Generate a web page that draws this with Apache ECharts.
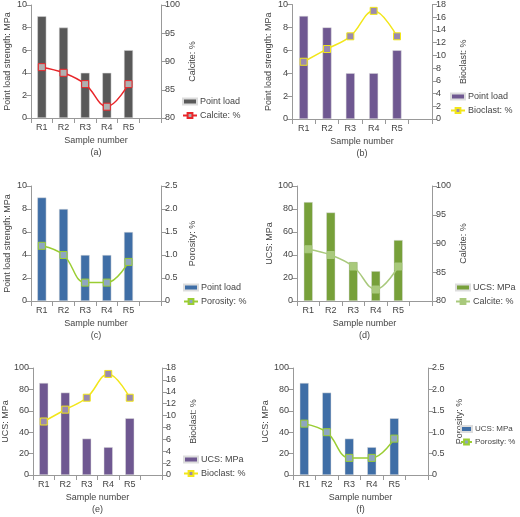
<!DOCTYPE html>
<html><head><meta charset="utf-8">
<script src="https://cdn.jsdelivr.net/npm/echarts@6/dist/echarts.min.js"></script>
<style>html,body{margin:0;padding:0;background:#fff}#c{width:520px;height:517px}</style>
</head><body><div id="c"></div>
<script>
const categories = ['R1','R2','R3','R4','R5',''];
const pointLoad = [9,8,4,4,6];
const ucs = [86,77,34,26,53];
const calcite = [89,88,86,82,86];
const bioclast = [9,11,13,17,13];
const porosity = [1.2,1.0,0.4,0.4,0.85];

const panels = [
 {tag:'(a)', g:{left:31,right:359,top:5,height:113}, bar:pointLoad, barName:'Point load', lName:'Point load strength: MPa', lMax:10, lInt:2,
  line:calcite, lineName:'Calcite: %', rName:'Calcite: %', rMin:80, rMax:100, rInt:5, barC:'#595959', lineC:'#e8262a', mkC:'#b0b0b0', leg:[182,97]},
 {tag:'(b)', g:{left:292,right:88,top:4,height:115}, bar:pointLoad, barName:'Point load', lName:'Point load strength: MPa', lMax:10, lInt:2,
  line:bioclast, lineName:'Bioclast: %', rName:'Bioclast: %', rMin:0, rMax:18, rInt:2, barC:'#6f5891', lineC:'#f2e61a', mkC:'#9a8aae', leg:[450,92]},
 {tag:'(c)', g:{left:31,right:359,top:186,height:115}, bar:pointLoad, barName:'Point load', lName:'Point load strength: MPa', lMax:10, lInt:2,
  line:porosity, lineName:'Porosity: %', rName:'Porosity: %', rMin:0, rMax:2.5, rInt:0.5, barC:'#3f6ea6', lineC:'#9acd32', mkC:'#8ea6c0', leg:[183,283], fmt:1},
 {tag:'(d)', g:{left:297,right:88,top:186,height:115}, bar:ucs, barName:'UCS: MPa', lName:'UCS: MPa', lMax:100, lInt:20,
  line:calcite, lineName:'Calcite: %', rName:'Calcite: %', rMin:80, rMax:100, rInt:5, barC:'#77a03a', lineC:'#a9c97c', mkC:'#a9c97c', leg:[455,283]},
 {tag:'(e)', g:{left:33,right:358,top:368,height:113}, bar:ucs, barName:'UCS: MPa', lName:'UCS: MPa', lMax:100, lInt:20,
  line:bioclast, lineName:'Bioclast: %', rName:'Bioclast: %', rMin:0, rMax:18, rInt:2, barC:'#6f5891', lineC:'#f2e61a', mkC:'#9a8aae', leg:[183,455]},
 {tag:'(f)', g:{left:293,right:92,top:368,height:113}, bar:ucs, barName:'UCS: MPa', lName:'UCS: MPa', lMax:100, lInt:20,
  line:porosity, lineName:'Porosity: %', rName:'Porosity: %', rMin:0, rMax:2.5, rInt:0.5, barC:'#3f6ea6', lineC:'#9acd32', mkC:'#8ea6c0', leg:[460,425], fmt:1, lf:8}
];

const txt = {color:'#444', fontSize:9, fontFamily:'Liberation Sans, sans-serif'};
const axLine = {show:true, lineStyle:{color:'#999'}};
const grid=[], xAxis=[], yAxis=[], series=[], legend=[];
panels.forEach((p,i)=>{
  grid.push(p.g);
  xAxis.push({type:'category', gridIndex:i, data:categories, name:'Sample number\n'+p.tag, nameLocation:'middle', nameGap:17,
    nameTextStyle:Object.assign({lineHeight:12},txt), axisLabel:Object.assign({margin:5},txt), axisLine:axLine, axisTick:{show:true,lineStyle:{color:'#999'}}});
  yAxis.push({type:'value', gridIndex:i, min:0, max:p.lMax, interval:p.lInt, name:p.lName, nameLocation:'middle', nameGap:19,
    nameTextStyle:txt, axisLabel:Object.assign({margin:4},txt), axisLine:axLine, axisTick:{show:true,lineStyle:{color:'#999'}}, splitLine:{show:false}});
  yAxis.push({type:'value', gridIndex:i, position:'right', min:p.rMin, max:p.rMax, interval:p.rInt, name:p.rName, nameLocation:'middle', nameGap:27,
    nameTextStyle:txt, axisLabel:Object.assign({margin:4, formatter:p.fmt?(v=>v===0?'0':v.toFixed(1)):null},txt), axisLine:axLine, axisTick:{show:true,lineStyle:{color:'#999'}}, splitLine:{show:false}});
  const bn = p.barName+'|'+i, ln = p.lineName+'|'+i;
  series.push({type:'bar', name:bn, xAxisIndex:i, yAxisIndex:2*i, data:p.bar, barWidth:9, itemStyle:{color:p.barC, borderColor:'#ddd', borderWidth:0.5}});
  series.push({type:'line', name:ln, xAxisIndex:i, yAxisIndex:2*i+1, data:p.line, smooth:0.4, symbol:'rect', symbolSize:7,
    lineStyle:{color:p.lineC, width:1.5}, itemStyle:{color:p.mkC, borderColor:p.lineC, borderWidth:1}});
  legend.push({left:p.leg[0], top:p.leg[1], orient:'vertical', itemGap:5, itemWidth:p.lf?11:14, itemHeight:6, padding:0, data:[{name:bn, icon:'rect'}, ln],
    formatter:n=>n.split('|')[0], textStyle:Object.assign({}, txt, {fontSize:p.lf||9, padding:[0,0,0,-2]}), selectedMode:false});
});
const chart = echarts.init(document.getElementById('c'));
chart.setOption({animation:false, grid, xAxis, yAxis, series, legend});
</script></body></html>
